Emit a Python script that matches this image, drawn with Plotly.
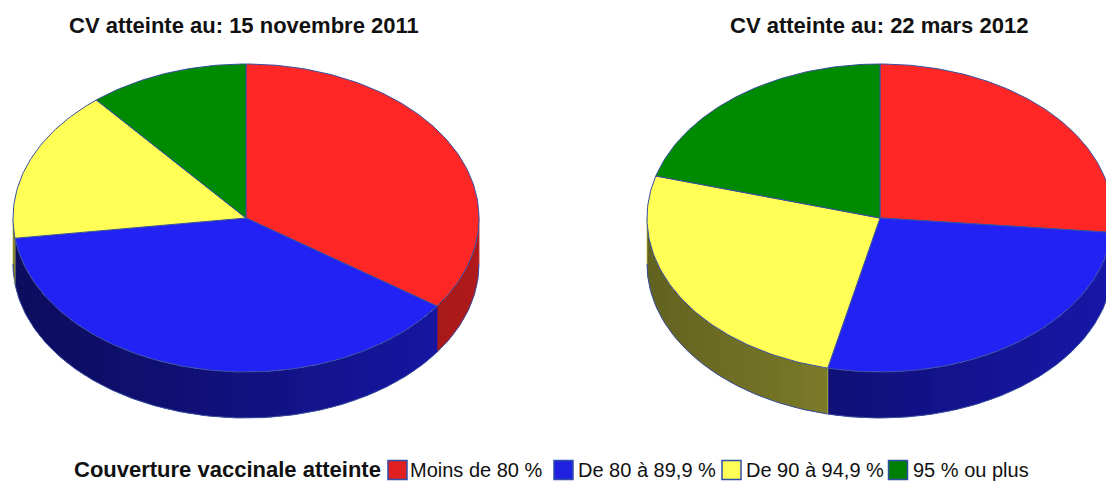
import math
import plotly.graph_objects as go

categories = ["Moins de 80 %", "De 80 à 89,9 %", "De 90 à 94,9 %", "95 % ou plus"]
colors = ["#FF2626", "#2222F5", "#FFFF55", "#008A00"]
legend_colors = ["#E02020", "#2020E0", "#FFFF55", "#008000"]
values_nov_2011 = [34.7, 38.2, 16.0, 11.1]
values_mar_2012 = [26.5, 27.1, 25.8, 20.6]
title_nov_2011 = "CV atteinte au: 15 novembre 2011"
title_mar_2012 = "CV atteinte au: 22 mars 2012"
legend_title = "Couverture vaccinale atteinte"

OUTLINE = "#3A4FA0"
RX, RY, DEPTH, CY = 233, 154, 46, 218
STEP = 3.0


def shade(hex_color, f):
    r, g, b = (int(hex_color[i:i + 2], 16) for i in (1, 3, 5))
    return f"rgb({int(r * f)},{int(g * f)},{int(b * f)})"


def pt(cx, deg, dy=0):
    a = math.radians(deg)
    return cx + RX * math.sin(a), CY - RY * math.cos(a) + dy


def poly(x, y, fill, line, width):
    return go.Scatter(x=x, y=y, mode="lines", fill="toself", fillcolor=fill,
                      line=dict(color=line, width=width), hoverinfo="skip", showlegend=False)


def arc(a0, a1):
    n = max(1, int(math.ceil((a1 - a0) / 1.0)))
    return [a0 + (a1 - a0) * i / n for i in range(n + 1)]


def add_pie(fig, cx, values):
    total = sum(values)
    start = 0.0
    wedges = []
    for v, c in zip(values, colors):
        end = start + v / total * 360
        wedges.append((start, end, c))
        start = end
    # side wall: front half of the cylinder only; each strip overlaps the one painted before it
    for a0, a1, c in wedges:
        lo, hi = max(a0, 90), min(a1, 270)
        if lo >= hi:
            continue
        a = hi
        while a > lo + 1e-9:
            b = max(a - STEP, lo)
            mid = (a + b) / 2
            u = math.sin(math.radians(mid))
            f = 0.52 + 0.17 * u if u > -0.3 else 0.47 + 0.07 * (u + 0.3) / 0.7 * 1.2
            col = shade(c, f)
            angs = arc(b, min(a + 1.5, hi))
            top = [pt(cx, t) for t in angs]
            bot = [pt(cx, t, DEPTH) for t in reversed(angs)]
            pts = top + bot + [top[0]]
            fig.add_trace(go.Scatter(x=[p[0] for p in pts], y=[p[1] for p in pts], mode="none",
                                     fill="toself", fillcolor=col, hoverinfo="skip", showlegend=False))
            a = b
        angs = arc(lo, hi)
        bx, by = zip(*[pt(cx, t, DEPTH) for t in angs])
        fig.add_trace(go.Scatter(x=bx, y=by, mode="lines", line=dict(color=OUTLINE, width=1),
                                 hoverinfo="skip", showlegend=False))
        for edge in (lo, hi):
            p, q = pt(cx, edge), pt(cx, edge, DEPTH)
            fig.add_trace(go.Scatter(x=[p[0], q[0]], y=[p[1], q[1]], mode="lines",
                                     line=dict(color=shade(c, 0.72), width=0.8),
                                     hoverinfo="skip", showlegend=False))
    # top face
    for a0, a1, c in wedges:
        pts = [(cx, CY)] + [pt(cx, t) for t in arc(a0, a1)] + [(cx, CY)]
        fig.add_trace(poly([p[0] for p in pts], [p[1] for p in pts], c, OUTLINE, 1))


fig = go.Figure()
add_pie(fig, 246, values_nov_2011)
add_pie(fig, 880, values_mar_2012)

# legend swatches and labels
sw_x = [397.5, 563.5, 731.5, 898]
txt_x = [410, 578, 746, 913]
fig.add_trace(go.Scatter(x=sw_x, y=[470] * 4, mode="markers", hoverinfo="skip", showlegend=False,
                         marker=dict(symbol="square", size=19, color=legend_colors,
                                     line=dict(color="#2F4FA8", width=1.5))))
FONT = "Liberation Sans"
INK = "#111111"
fig.add_trace(go.Scatter(x=txt_x, y=[471.5] * 4, mode="text", text=categories, textposition="middle right",
                         textfont=dict(family=FONT, size=20, color=INK), hoverinfo="skip", showlegend=False))
fig.add_trace(go.Scatter(x=[74], y=[471], mode="text", text=[f"<b>{legend_title}</b>"],
                         textposition="middle right", cliponaxis=False,
                         textfont=dict(family=FONT, size=22, color=INK), hoverinfo="skip", showlegend=False))

ann = [
    dict(x=244, y=25, text=f"<b>{title_nov_2011}</b>", xanchor="center"),
    dict(x=879, y=25, text=f"<b>{title_mar_2012}</b>", xanchor="center"),
]
for a in ann:
    a.update(yanchor="middle", showarrow=False, xref="x", yref="y",
             font=dict(family=FONT, size=22, color=INK))

fig.update_layout(
    width=1106, height=481, margin=dict(l=0, r=0, t=0, b=0),
    paper_bgcolor="white", plot_bgcolor="white", showlegend=False,
    xaxis=dict(range=[0, 1106], visible=False, fixedrange=True),
    yaxis=dict(range=[481, 0], visible=False, fixedrange=True),
    annotations=ann,
)
fig.write_html("out.html", config={"displayModeBar": False},
               post_script="document.body.style.margin='0';document.body.style.overflow='hidden';")
